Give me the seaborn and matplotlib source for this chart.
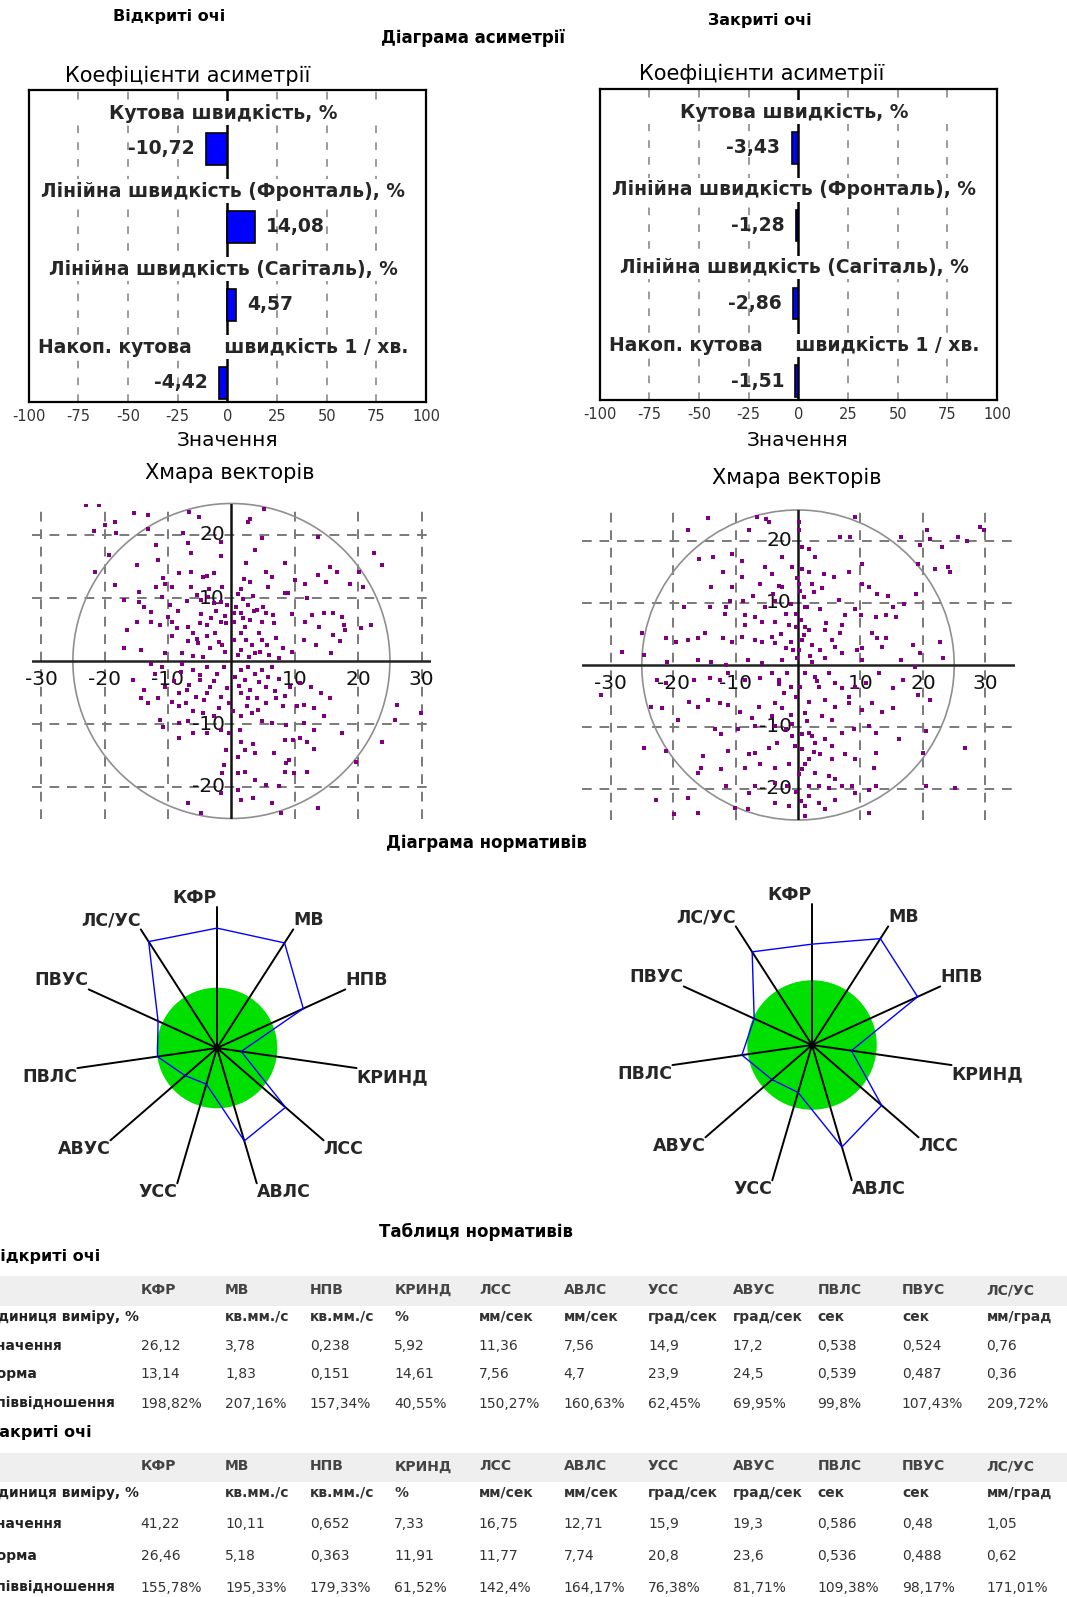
import matplotlib
matplotlib.use("Agg")
import matplotlib.pyplot as plt
import seaborn as sns
import numpy as np
from matplotlib.patches import Circle

sns.set_style("white")
plt.rcParams["font.family"] = ["DejaVu Sans"]
plt.rcParams["axes.unicode_minus"] = False

W, H = 1067, 1597

# ------------------------------------------------------------------ data
asym_labels = ["Кутова швидкість, %",
               "Лінійна швидкість (Фронталь), %",
               "Лінійна швидкість (Сагіталь), %",
               "Накоп. кутова     швидкість 1 / хв."]
asym_open = [-10.72, 14.08, 4.57, -4.42]
asym_closed = [-3.43, -1.28, -2.86, -1.51]
asym_ticks = [-100, -75, -50, -25, 0, 25, 50, 75, 100]

cloud_xticks = [-30, -20, -10, 10, 20, 30]
cloud_yticks = [20, 10, -10, -20]

params = ["КФР", "МВ", "НПВ", "КРИНД", "ЛСС", "АВЛС", "УСС", "АВУС", "ПВЛС", "ПВУС", "ЛС/УС"]
units = ["", "кв.мм./с", "кв.мм./с", "%", "мм/сек", "мм/сек", "град/сек", "град/сек", "сек", "сек", "мм/град"]
row_names = ["Одиниця виміру, %", "Значення", "Норма", "Співвідношення"]

open_value = [26.12, 3.78, 0.238, 5.92, 11.36, 7.56, 14.9, 17.2, 0.538, 0.524, 0.76]
open_norm = [13.14, 1.83, 0.151, 14.61, 7.56, 4.7, 23.9, 24.5, 0.539, 0.487, 0.36]
open_ratio = [198.82, 207.16, 157.34, 40.55, 150.27, 160.63, 62.45, 69.95, 99.8, 107.43, 209.72]

closed_value = [41.22, 10.11, 0.652, 7.33, 16.75, 12.71, 15.9, 19.3, 0.586, 0.48, 1.05]
closed_norm = [26.46, 5.18, 0.363, 11.91, 11.77, 7.74, 20.8, 23.6, 0.536, 0.488, 0.62]
closed_ratio = [155.78, 195.33, 179.33, 61.52, 142.4, 164.17, 76.38, 81.71, 109.38, 98.17, 171.01]

cloud_open = [
    (-23.0, 24.8), (-20.9, 24.8), (-15.3, 23.5), (-13.1, 23.2), (-6.7, 23.7), (-5.1, 22.8), (-18.4, 22.1),
    (-20.0, 21.6), (-21.7, 20.7), (-18.2, 20.3), (-13.1, 20.9), (-7.6, 20.3), (-6.9, 18.7), (-11.9, 18.4),
    (-1.7, 18.9), (2.9, 22.6), (2.6, 22.1), (5.1, 24.2), (4.8, 19.5), (13.6, 19.7), (22.5, 17.1), (23.7, 15.2),
    (3.7, 17.6), (-6.4, 17.1), (-1.7, 16.6), (-19.3, 16.8), (-14.9, 15.2), (-11.6, 16.0), (2.3, 15.5),
    (8.4, 15.5), (15.5, 15.0), (16.6, 14.2), (20.1, 14.2), (5.4, 14.2), (6.4, 13.4), (-21.5, 14.2),
    (-3.9, 13.5), (-4.5, 13.3), (-2.8, 13.9), (-10.8, 13.1), (-10.5, 12.3), (-8.3, 13.9), (-6.4, 14.2),
    (-18.4, 12.1), (-14.6, 11.0), (-11.9, 11.8), (-9.4, 11.8), (-6.4, 11.8), (-1.5, 11.8), (2.0, 13.0),
    (5.8, 11.8), (10.0, 12.9), (11.6, 12.3), (13.6, 13.7), (14.9, 12.6), (18.7, 12.3), (20.7, 11.8),
    (8.5, 10.8), (8.9, 10.8), (3.4, 10.3), (1.8, 9.9), (1.0, 10.7), (-3.7, 10.2), (-2.8, 9.2), (-4.8, 9.7),
    (-1.7, 9.4), (-0.7, 8.9), (-14.6, 9.4), (-11.0, 10.2), (2.6, 8.9), (4.0, 8.1), (5.4, 7.6), (1.5, 7.6),
    (2.9, 6.5), (4.8, 6.2), (6.7, 6.1), (0.4, 6.2), (12.7, 7.3), (14.6, 7.6), (16.0, 7.6), (17.4, 7.0),
    (17.7, 5.7), (17.9, 4.9), (20.4, 5.2), (22.0, 5.7), (13.8, 5.4), (16.0, 4.1), (11.6, 6.2), (11.4, 3.3),
    (13.3, 2.5), (15.7, 1.2), (17.1, 3.1), (-14.9, 6.2), (-12.7, 6.2), (-16.5, 4.9), (-11.3, 5.7), (-9.4, 6.2),
    (-8.6, 5.2), (-6.9, 5.4), (-5.0, 6.0), (-3.9, 5.7), (-1.7, 6.2), (-6.1, 4.4), (-3.9, 3.9), (-2.6, 4.4),
    (-5.3, 2.8), (-6.9, 3.1), (-9.4, 3.9), (-17.0, 2.0), (-14.3, 1.7), (-10.5, 1.2), (-7.8, 1.2), (-3.4, 2.0),
    (-1.5, 2.5), (0.4, 3.3), (1.5, 4.4), (2.3, 3.3), (3.2, 2.5), (4.8, 3.3), (5.6, 2.5), (7.0, 3.6), (8.1, 2.0),
    (9.5, 1.5), (3.7, 1.2), (1.5, 1.7), (2.1, 5.4), (4.3, 4.4), (0.4, 7.6), (-0.9, 6.0), (-17.0, 9.7),
    (-13.8, 8.6), (-12.7, 7.8), (-9.7, 8.9),
    (-2.5, 8.0), (-1.0, 7.2), (0.8, 8.5), (1.8, 6.8), (3.5, 7.9), (5.0, 8.6), (6.5, 7.3), (-3.2, 6.8),
    (-4.8, 7.5), (-5.5, 3.5), (-2.0, 3.0), (-1.0, 1.5), (1.0, 1.0), (2.8, 0.6), (4.5, 1.5), (6.0, 1.0),
    (7.5, 0.5), (-4.5, 0.6), (-6.0, 0.8), (12.0, 10.0), (9.5, 7.5), (-8.5, 8.0), (-10.0, 7.0), (-7.0, 9.5),
    (-5.5, 10.5), (-3.5, 11.5), (1.5, 11.5), (3.0, 12.5),
    (-12.7, -0.4), (-11.0, -0.9), (-7.8, -0.4), (-6.1, -1.4), (-3.9, -0.9), (-2.3, -2.0), (-5.0, -3.0),
    (-3.4, -4.1), (-6.7, -3.8), (-8.3, -5.1), (-10.5, -4.1), (-13.8, -4.6), (-14.3, -5.9), (-13.1, -6.7),
    (-11.6, -5.9), (-9.4, -6.5), (-7.2, -6.7), (-5.6, -5.7), (-3.9, -5.1), (-1.7, -5.7), (-0.7, -4.3),
    (-0.4, -6.7), (-8.3, -7.2), (-6.1, -8.0), (-4.5, -8.3), (-2.8, -8.8), (-11.3, -9.4), (-10.8, -10.4),
    (-8.3, -9.9), (-6.9, -9.6), (-8.3, -12.3), (-6.1, -11.5), (-3.9, -11.5), (-1.7, -11.0), (-0.4, -11.5),
    (-0.9, -14.1), (-1.2, -16.5), (-1.5, -17.8), (-1.7, -21.0), (-6.9, -22.6), (-4.8, -24.2),
    (1.5, -1.4), (2.6, -0.9), (3.7, -2.0), (4.8, -1.4), (6.4, -0.9), (2.1, -3.0), (4.3, -3.3), (5.4, -4.1),
    (7.5, -2.8), (9.2, -4.1), (10.8, -3.5), (12.5, -4.1), (14.1, -5.1), (15.5, -5.9), (1.5, -5.1), (2.6, -5.9),
    (4.0, -5.9), (5.4, -6.7), (7.0, -5.9), (8.1, -7.2), (10.3, -7.2), (11.4, -7.0), (13.0, -7.5), (14.6, -8.8),
    (17.4, -11.5), (26.1, -7.0), (29.9, -8.3), (25.8, -9.4), (23.7, -12.8), (19.6, -16.0), (1.5, -8.8),
    (3.2, -8.3), (4.8, -9.6), (6.4, -9.9), (8.6, -10.2), (11.4, -9.9), (13.0, -11.0), (1.3, -11.0),
    (1.5, -12.8), (2.1, -14.1), (3.4, -13.1), (3.7, -14.6), (6.7, -14.6), (8.4, -12.5), (9.7, -12.5),
    (10.8, -12.3), (12.0, -12.8), (13.1, -13.9), (8.6, -16.2), (9.1, -15.7), (9.9, -17.8), (8.4, -17.6),
    (12.0, -17.6), (2.1, -17.6), (3.7, -18.9), (5.4, -19.7), (7.5, -19.9), (1.0, -20.5), (1.5, -22.1),
    (3.4, -21.8), (6.4, -22.6), (7.9, -24.2), (13.6, -23.4), (1.0, -15.2), (1.0, -17.8),
    (-8.0, -1.8), (-5.0, -2.2), (-2.8, -3.2), (-1.2, -1.0), (0.5, -2.5), (1.2, -4.0), (3.0, -4.6), (5.8, -2.6),
    (6.8, -4.8), (8.5, -5.5), (-4.4, -6.2), (-7.0, -4.6), (-9.0, -3.2), (-2.0, -7.5), (0.3, -8.0), (2.5, -7.2),
    (4.2, -7.8), (-12.0, -2.0), (-15.5, -3.0),
]

cloud_closed = [
    (-14.4, 23.7), (-5.2, 23.5), (-4.6, 23.0), (-6.6, 23.8), (0.1, 23.0), (0.1, 21.7), (9.2, 23.8), (29.1, 22.2),
    (29.7, 21.7), (-17.6, 21.8), (-7.9, 21.8), (6.8, 20.6), (8.4, 20.6), (16.5, 20.6), (20.6, 21.8), (21.1, 20.3),
    (23.0, 19.0), (25.6, 20.6), (27.0, 20.0), (19.5, 19.3), (0.6, 19.0), (1.7, 18.7), (-2.6, 17.4), (2.8, 17.4),
    (-10.6, 17.9), (-13.6, 17.4), (-15.8, 17.1), (-9.0, 16.8), (-5.3, 15.8), (-1.0, 15.8), (0.6, 15.5),
    (1.7, 15.0), (4.1, 14.7), (5.8, 14.2), (8.2, 15.0), (10.3, 16.3), (19.2, 16.3), (21.9, 15.5), (24.0, 15.8),
    (24.3, 15.0), (-12.0, 15.0), (-9.0, 14.2), (-4.2, 14.7), (-13.9, 12.6), (-10.6, 12.6), (-6.1, 13.1),
    (-3.1, 12.8), (-2.6, 12.6), (0.1, 13.1), (0.4, 12.0), (2.3, 13.1), (2.5, 11.8), (10.3, 13.1), (11.4, 12.6),
    (12.7, 11.5), (14.4, 11.2), (18.9, 11.5), (17.0, 9.9), (15.2, 9.4), (-18.2, 9.4), (-14.1, 9.4), (-11.5, 9.4),
    (-10.9, 10.4), (-8.8, 10.4), (-7.2, 11.2), (-5.3, 9.4), (-3.7, 10.4), (-1.2, 9.9), (1.2, 9.4), (1.5, 9.4),
    (3.6, 9.1), (9.2, 9.1), (10.1, 8.0), (12.5, 7.8), (14.1, 8.0), (15.7, 7.8), (7.6, 8.0), (-11.7, 8.3),
    (-8.5, 8.0), (-6.9, 7.8), (-5.8, 7.0), (-3.7, 7.0), (-2.0, 8.3), (-0.4, 8.3), (-0.4, 6.1), (1.2, 6.1),
    (1.7, 5.6), (4.4, 5.6), (7.1, 6.4), (6.8, 5.1), (11.9, 5.1), (12.7, 4.3), (14.1, 4.3), (22.7, 3.7),
    (18.4, 3.2), (13.5, 2.9), (10.3, 2.7), (9.5, 2.4), (7.1, 1.9), (6.0, 2.9), (5.5, 4.0), (3.6, 2.4), (2.3, 3.2),
    (0.6, 4.0), (0.1, 2.4), (-0.2, 1.1), (-1.2, 3.7), (-2.0, 2.7), (-3.7, 3.5), (-4.2, 4.5), (-5.8, 3.7),
    (-6.9, 4.0), (-9.0, 4.5), (-10.6, 3.7), (-12.0, 4.3), (-14.9, 5.1), (-16.0, 4.3), (-17.6, 4.0), (-19.5, 3.7),
    (-21.1, 4.3), (-24.9, 5.1), (-28.1, 2.1), (-24.6, 1.6), (-20.9, 0.5), (-16.0, 0.8), (-13.9, 0.5),
    (-11.5, 0.0), (-8.0, 0.8), (-5.8, 0.4), (-2.6, 0.8), (2.3, 0.5), (4.4, 1.1), (10.3, 0.8), (16.5, 0.8),
    (23.2, 1.1), (18.7, -0.3), (19.5, 1.9),
    (-1.5, 6.5), (0.5, 7.2), (1.0, 4.8), (-2.8, 5.0), (2.0, 1.5), (-0.8, 2.5), (-4.0, 11.5), (-0.2, 14.0),
    (1.0, 11.0), (3.8, 12.5), (-8.5, 6.5), (6.5, 10.5), (4.5, 6.8),
    (-31.6, -4.8), (-22.5, -2.4), (-21.1, -2.9), (-16.6, -2.4), (-14.1, -2.1), (-12.5, -2.4), (-11.2, -1.3),
    (-8.5, -2.4), (-6.1, -2.1), (-4.2, -1.3), (-3.1, -2.4), (-1.8, -1.3), (-1.2, -3.5), (-2.3, -4.5),
    (-0.4, -5.1), (1.2, -1.3), (2.8, -1.9), (3.3, -3.5), (4.9, -1.3), (6.0, -2.9), (7.1, -3.7), (8.2, -5.1),
    (9.2, -3.5), (10.9, -2.9), (13.0, -1.3), (15.2, -3.7), (16.8, -2.4), (19.2, -4.8), (21.1, -5.6),
    (15.2, -7.0), (13.5, -7.5), (11.9, -6.1), (10.3, -7.2), (8.2, -6.1), (6.0, -6.7), (4.4, -5.6), (1.7, -5.9),
    (1.2, -7.8), (3.9, -8.3), (5.5, -8.8), (-3.7, -6.1), (-2.6, -7.0), (-1.2, -8.0), (-4.2, -8.3), (-6.3, -6.7),
    (-7.4, -8.6), (-9.3, -7.5), (-11.2, -6.4), (-12.5, -6.1), (-14.4, -5.6), (-16.0, -6.7), (-17.4, -5.9),
    (-21.7, -7.0), (-23.5, -6.7), (-19.2, -8.8), (-13.3, -10.4), (-12.3, -11.2), (-9.6, -10.4), (-6.9, -9.9),
    (-3.7, -9.9), (-2.0, -10.4), (-1.0, -11.5), (0.6, -11.2), (1.7, -11.0), (2.3, -11.5), (2.8, -12.6),
    (4.4, -12.0), (5.5, -13.1), (7.1, -11.0), (9.0, -10.4), (11.4, -9.9), (12.5, -11.0), (16.2, -12.0),
    (20.5, -10.7), (26.7, -13.4), (12.5, -14.2), (12.2, -16.6), (9.2, -15.2), (7.6, -14.4), (5.5, -15.2),
    (3.6, -14.4), (1.7, -15.2), (0.6, -13.6), (-3.4, -12.6), (-4.7, -13.4), (-6.9, -14.2), (-7.9, -14.4),
    (-11.2, -13.9), (-15.2, -14.7), (-21.1, -13.9), (-24.6, -13.4), (-15.5, -16.6), (-12.3, -16.8),
    (-8.5, -16.6), (-6.1, -16.0), (-3.7, -16.6), (-1.5, -16.0), (0.6, -16.8), (1.2, -16.0), (2.8, -17.4),
    (4.9, -17.9), (6.0, -18.4), (7.1, -19.5), (8.7, -19.5), (9.2, -20.6), (11.4, -20.1), (12.5, -19.5),
    (4.9, -19.8), (3.3, -19.5), (1.7, -19.5), (1.7, -21.1), (-1.8, -19.5), (-3.7, -19.0), (-6.9, -19.5),
    (-7.9, -20.6), (-11.5, -19.5), (-16.0, -17.4), (-17.6, -21.4), (-22.7, -21.7), (-19.8, -24.1),
    (-16.0, -23.8), (-10.1, -23.0), (-8.0, -23.3), (-3.7, -22.2), (-1.5, -22.7), (1.2, -22.7), (1.2, -24.3),
    (3.3, -22.2), (4.4, -23.3), (6.0, -21.7), (11.4, -23.8), (20.5, -19.5), (25.1, -19.8), (20.0, -14.2),
    (3.0, -2.5), (-3.0, -3.0), (0.3, -3.5), (1.5, -9.0), (-1.0, -9.5), (-0.5, -13.0), (0.2, -17.5),
    (-0.3, -20.5), (0.5, -22.0), (2.5, -14.0),
]


def fmt(v):
    return f"{v:g}".replace(".", ",")


# ------------------------------------------------------------------ figure
fig = plt.figure(figsize=(W / 100, H / 100), dpi=100)
fig.patch.set_facecolor("white")
ax0 = fig.add_axes([0, 0, 1, 1])
ax0.set_xlim(0, W)
ax0.set_ylim(H, 0)
ax0.axis("off")


def rect(x0, y0, x1, y1):
    return [x0 / W, 1 - y1 / H, (x1 - x0) / W, (y1 - y0) / H]


def T(x, y, s, size=11, weight="normal", ha="center", color="black", **kw):
    ax0.text(x, y, s, fontsize=size, fontweight=weight, ha=ha, va="center", color=color, **kw)


# headings
T(169, 17, "Відкриті очі", 11.5, "bold")
T(760, 21, "Закриті очі", 11.5, "bold")
T(473, 38, "Діаграма асиметрії", 12, "bold")
T(188, 76, "Коефіцієнти асиметрії", 15)
T(762, 74, "Коефіцієнти асиметрії", 15)
T(227, 441, "Значення", 14.5)
T(798, 441, "Значення", 14.5)
T(230, 473, "Хмара векторів", 15)
T(797, 478, "Хмара векторів", 15)
T(486, 843, "Діаграма нормативів", 12, "bold")
T(476, 1232, "Таблиця нормативів", 12, "bold")


# ------------------------------------------------------------------ asymmetry bars
def bar_panel(ax, vals):
    sns.barplot(x=vals, y=asym_labels, orient="h", color="#0000ff", saturation=1,
                edgecolor="black", linewidth=1.2, width=0.405, errorbar=None, ax=ax, zorder=3)
    ax.set_xlim(-100, 100)
    ax.set_ylim(3.244, -0.756)
    ax.set_yticks([])
    ax.set_ylabel("")
    ax.set_xlabel("")
    for t in asym_ticks[1:-1]:
        if t != 0:
            ax.axvline(t, color="#808080", lw=1.1, ls=(0, (5, 6)), zorder=1)
    ax.axvline(0, color="black", lw=1.8, zorder=1.5)
    for i, lab in enumerate(asym_labels):
        ly = i - 0.459
        ax.axhspan(ly - 0.15, ly + 0.15, color="white", lw=0, zorder=2)
        ax.text(-2, ly, lab, ha="center", va="center", fontsize=13.5, fontweight="bold", zorder=4)
    for i, v in enumerate(vals):
        off, ha = (-8, "right") if v < 0 else (8, "left")
        ax.annotate(fmt(v), (v, i), xytext=(off, 0), textcoords="offset points",
                    ha=ha, va="center", fontsize=13.5, fontweight="bold", zorder=4)
    ax.set_xticks(asym_ticks)
    ax.set_xticklabels([str(t) for t in asym_ticks])
    ax.tick_params(axis="x", length=0, pad=5, labelsize=10.5, labelcolor="#333333")
    for s in ax.spines.values():
        s.set_color("black")
        s.set_linewidth(1.6)
        s.set_visible(True)


ax_bl = fig.add_axes(rect(28.6, 90, 426, 402))
bar_panel(ax_bl, asym_open)
ax_br = fig.add_axes(rect(599.8, 89, 997, 400))
bar_panel(ax_br, asym_closed)


# ------------------------------------------------------------------ vector clouds
def cloud_panel(ax, pts, xmax):
    ax.set_facecolor("none")
    ax.set_xlim(-xmax, xmax)
    ax.set_ylim(-25, 25)
    ax.axis("off")
    for t in cloud_xticks:
        ax.axvline(t, color="#7a7a7a", lw=1.4, ls=(0, (5, 4)), zorder=1)
    for t in cloud_yticks:
        ax.axhline(t, color="#7a7a7a", lw=1.4, ls=(0, (5, 4)), zorder=1)
    ax.add_patch(Circle((0, 0), 25, fill=False, ec="#8f8f8f", lw=1.2, zorder=2, clip_on=False))
    ax.axhline(0, color="#222222", lw=1.8, zorder=2)
    ax.axvline(0, color="#111111", lw=1.8, zorder=2)
    xs = [p[0] for p in pts]
    ys = [p[1] for p in pts]
    sns.scatterplot(x=xs, y=ys, ax=ax, marker="s", s=5.5, color="#800080", linewidth=0, zorder=4)
    for t in cloud_xticks:
        ax.text(t, -2.95, str(t), ha="center", va="center", fontsize=14.5, color="#111111", zorder=3)
    for t in cloud_yticks:
        ax.text(-1.0, t, str(t), ha="right", va="center", fontsize=14.5, color="#111111", zorder=3)


ax_sl = fig.add_axes(rect(32.3, 503.5, 430.5, 818.5))
cloud_panel(ax_sl, cloud_open, 31.4)
ax_sr = fig.add_axes(rect(581.5, 510, 1014.5, 820))
cloud_panel(ax_sr, cloud_closed, 34.65)


# ------------------------------------------------------------------ radar
def radar_panel(cx, cy, ratios):
    half_px = 210
    L = 1.115 * max(ratios) / 100.0
    half_u = L * half_px / 141.0
    ax = fig.add_axes(rect(cx - half_px, cy - half_px, cx + half_px, cy + half_px))
    ax.set_facecolor("none")
    ax.set_xlim(-half_u, half_u)
    ax.set_ylim(-half_u, half_u)
    ax.set_aspect("equal")
    ax.axis("off")
    n = len(params)
    th = np.arange(n) * 2 * np.pi / n
    ax.add_patch(Circle((0, 0), 1.0, color="#00e000", lw=0, zorder=1))
    for k in range(n):
        ex, ey = L * np.sin(th[k]), L * np.cos(th[k])
        ax.plot([0, ex], [0, ey], color="black", lw=1.4, zorder=2)
        ha = "left" if np.sin(th[k]) > 0.01 else "right"
        va = "bottom" if np.cos(th[k]) > 0 else "top"
        ax.text(ex, ey, params[k], ha=ha, va=va, fontsize=12.5, fontweight="bold", zorder=5)
    r = np.array(ratios) / 100.0
    px = np.append(r * np.sin(th), r[0] * np.sin(th[0]))
    py = np.append(r * np.cos(th), r[0] * np.cos(th[0]))
    ax.plot(px, py, color="#0000ff", lw=1.0, zorder=3)
    ax.plot([0], [0], "o", color="black", ms=4, zorder=4)


radar_panel(217, 1048, open_ratio)
radar_panel(812, 1045, closed_ratio)

# ------------------------------------------------------------------ table
col_x = [140.5 + 84.6 * k for k in range(len(params))]


def table_block(y_head, band, y_rows, values, norms, ratios, title):
    T(-12, y_head, title, 11.5, "bold", ha="left")
    ax0.axhspan(band[0], band[1], color="#efefef", lw=0, zorder=0)
    for k, p in enumerate(params):
        T(col_x[k], (band[0] + band[1]) / 2 - 1, p, 10, "bold", ha="left", color="#444444")
    rows = [units,
            [fmt(v) for v in values],
            [fmt(v) for v in norms],
            [fmt(v) + "%" for v in ratios]]
    for j, (yy, name) in enumerate(zip(y_rows, row_names)):
        T(-14, yy, name, 10, "bold", ha="left", color="#222222")
        for k in range(len(params)):
            T(col_x[k], yy, rows[j][k], 10, "bold" if j == 0 else "normal", ha="left", color="#333333")


table_block(1257, (1276, 1306), [1317, 1346, 1374, 1404], open_value, open_norm, open_ratio, "Відкриті очі")
table_block(1432, (1453, 1482), [1493, 1524, 1556, 1588], closed_value, closed_norm, closed_ratio, "Закриті очі")

fig.savefig("out.png", dpi=100, facecolor="white")
